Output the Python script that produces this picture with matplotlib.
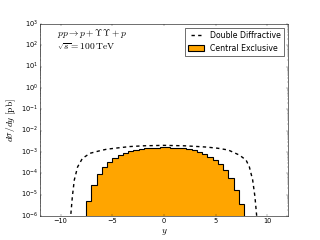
import numpy as np
import matplotlib
matplotlib.use("Agg")
import matplotlib.pyplot as plt

plt.style.use("classic")
plt.rcParams["mathtext.fontset"] = "cm"

# ---------------------------------------------------------------------------
# Data
# ---------------------------------------------------------------------------
# central exclusive histogram: 30 bins
ce_edges = np.linspace(-7.55, 7.77, 31)
ce_vals = [5.2e-6, 2.8e-5, 9.0e-5, 1.9e-4, 3.5e-4, 5.0e-4, 7.0e-4, 9.0e-4,
           1.1e-3, 1.25e-3, 1.4e-3, 1.5e-3, 1.57e-3, 1.62e-3, 1.65e-3,
           1.65e-3, 1.62e-3, 1.55e-3, 1.47e-3, 1.35e-3, 1.2e-3, 1.0e-3,
           8.0e-4, 6.0e-4, 4.3e-4, 2.6e-4, 1.4e-4, 6.0e-5, 1.7e-5, 3.6e-6]

# double diffractive curve
dd_y = [-9.15, -9.03, -8.87, -8.68, -8.36, -7.9, -7.16, -6.2, -5.55, -4.5,
        -3.3, -2.0, 0.0, 2.0, 3.3, 4.13, 5.2, 6.22, 7.29, 7.94, 8.26, 8.58,
        8.8, 8.97, 9.1]
dd_v = [3e-7, 1e-6, 8e-6, 4.9e-5, 2e-4, 5e-4, 8.7e-4, 1.15e-3, 1.35e-3,
        1.55e-3, 1.8e-3, 1.95e-3, 2.05e-3, 1.95e-3, 1.8e-3, 1.7e-3, 1.5e-3,
        1.24e-3, 7.2e-4, 4.2e-4, 2e-4, 4.9e-5, 8e-6, 1e-6, 3e-7]

# ---------------------------------------------------------------------------
# Plot
# ---------------------------------------------------------------------------
fig = plt.figure(figsize=(8, 6), facecolor="white")
ax = fig.add_subplot(111)

ax.plot(dd_y, dd_v, "k--", linewidth=2.5, label="Double Diffractive")
centers = 0.5 * (ce_edges[1:] + ce_edges[:-1])
ax.hist(centers, bins=ce_edges, weights=ce_vals, histtype="stepfilled",
        facecolor="orange", edgecolor="black", linewidth=2,
        label="Central Exclusive")

ax.set_yscale("log")
ax.set_xlim(-12, 12)
ax.set_ylim(1e-6, 1e3)
ax.set_xlabel(r"$y$", fontsize=17)
ax.set_ylabel(r"$d\sigma/dy\ [\mathrm{pb}]$", fontsize=17)

ax.text(0.07, 0.985, r"$pp \to p + \Upsilon\Upsilon + p$", transform=ax.transAxes,
        fontsize=17, va="top")
ax.text(0.07, 0.91, r"$\sqrt{s} = 100\,\mathrm{TeV}$", transform=ax.transAxes,
        fontsize=17, va="top")

ax.legend(loc="upper right", fontsize=14)

fig.savefig("out.png", dpi=40, facecolor="white")
